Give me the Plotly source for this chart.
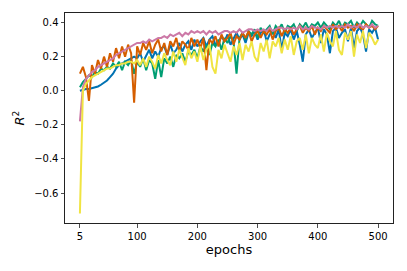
import plotly.graph_objects as go

epochs = list(range(5, 501, 5))

blue = [0.00, 0.005, 0.01, 0.01, 0.015, 0.02, 0.025, 0.035, 0.045, 0.06, 0.08, 0.10, 0.13, 0.15, 0.16, 0.17, 0.18, 0.19, 0.20, 0.19,
        0.22, 0.17, 0.21, 0.24, 0.19, 0.23, 0.20, 0.25, 0.26, 0.21, 0.27, 0.22, 0.24, 0.28, 0.23, 0.27, 0.29, 0.24, 0.30, 0.26,
        0.29, 0.31, 0.26, 0.30, 0.32, 0.27, 0.28, 0.32, 0.29, 0.33, 0.27, 0.31, 0.34, 0.30, 0.33, 0.28, 0.34, 0.32, 0.35, 0.30,
        0.34, 0.36, 0.29, 0.33, 0.35, 0.31, 0.36, 0.24, 0.34, 0.32, 0.36, 0.30, 0.35, 0.27, 0.17, 0.33, 0.36, 0.31, 0.34, 0.37,
        0.28, 0.36, 0.33, 0.22, 0.35, 0.37, 0.31, 0.34, 0.36, 0.29, 0.37, 0.25, 0.35, 0.37, 0.33, 0.23, 0.36, 0.34, 0.37, 0.30]

green = [0.02, 0.05, 0.07, 0.09, 0.08, 0.11, 0.10, 0.13, 0.12, 0.14, 0.13, 0.16, 0.14, 0.17, 0.12, 0.17, 0.15, 0.18, 0.10, 0.17,
         0.14, 0.19, 0.12, 0.18, 0.16, 0.07, 0.18, 0.08, 0.19, 0.16, 0.20, 0.14, 0.21, 0.19, 0.22, 0.17, 0.23, 0.21, 0.24, 0.19,
         0.26, 0.23, 0.27, 0.21, 0.28, 0.26, 0.30, 0.24, 0.31, 0.28, 0.32, 0.29, 0.10, 0.31, 0.34, 0.30, 0.35, 0.33, 0.36, 0.31,
         0.37, 0.34, 0.36, 0.38, 0.33, 0.38, 0.36, 0.39, 0.34, 0.38, 0.37, 0.39, 0.35, 0.39, 0.37, 0.40, 0.36, 0.39, 0.38, 0.40,
         0.37, 0.40, 0.38, 0.36, 0.40, 0.38, 0.41, 0.37, 0.40, 0.39, 0.41, 0.37, 0.40, 0.38, 0.41, 0.39, 0.37, 0.41, 0.39, 0.38]

orange = [0.10, 0.14, 0.08, -0.06, 0.15, 0.10, 0.18, 0.13, 0.20, 0.14, 0.22, 0.17, 0.25, 0.19, 0.26, 0.20, 0.27, 0.22, -0.07, 0.26,
          0.21, 0.28, 0.24, 0.29, 0.22, 0.27, 0.30, 0.23, 0.28, 0.21, 0.29, 0.26, 0.31, 0.23, 0.29, 0.27, 0.24, 0.31, 0.26, 0.30,
          0.25, 0.31, 0.12, 0.30, 0.28, 0.32, 0.26, 0.33, 0.29, 0.31, 0.34, 0.27, 0.32, 0.30, 0.34, 0.31, 0.35, 0.29, 0.33, 0.35,
          0.31, 0.35, 0.33, 0.36, 0.30, 0.35, 0.37, 0.32, 0.36, 0.34, 0.37, 0.33, 0.36, 0.38, 0.34, 0.37, 0.35, 0.38, 0.33, 0.37,
          0.35, 0.38, 0.36, 0.34, 0.39, 0.36, 0.38, 0.35, 0.39, 0.37, 0.38, 0.35, 0.39, 0.37, 0.36, 0.39, 0.37, 0.38, 0.36, 0.38]

pink = [-0.18, 0.02, 0.07, 0.09, 0.11, 0.12, 0.14, 0.15, 0.16, 0.17, 0.18, 0.19, 0.21, 0.22, 0.23, 0.24, 0.25, 0.26, 0.27, 0.28,
        0.28, 0.29, 0.28, 0.30, 0.29, 0.30, 0.31, 0.31, 0.32, 0.31, 0.33, 0.32, 0.33, 0.34, 0.32, 0.34, 0.33, 0.35, 0.34, 0.35,
        0.34, 0.35, 0.33, 0.35, 0.34, 0.35, 0.33, 0.34, 0.35, 0.35, 0.34, 0.35, 0.34, 0.36, 0.34, 0.35, 0.36, 0.36, 0.35, 0.36,
        0.35, 0.36, 0.35, 0.37, 0.35, 0.36, 0.37, 0.37, 0.36, 0.37, 0.36, 0.37, 0.36, 0.38, 0.36, 0.37, 0.36, 0.38, 0.37, 0.37,
        0.36, 0.38, 0.37, 0.38, 0.37, 0.38, 0.37, 0.38, 0.37, 0.39, 0.37, 0.38, 0.37, 0.39, 0.37, 0.38, 0.37, 0.39, 0.37, 0.38]

yellow = [-0.72, 0.00, 0.04, 0.06, 0.08, 0.09, 0.10, 0.11, 0.12, 0.13, 0.13, 0.14, 0.15, 0.15, 0.16, 0.16, 0.17, 0.17, 0.16, 0.18,
          0.15, 0.19, 0.14, 0.20, 0.17, 0.13, 0.21, 0.16, 0.22, 0.18, 0.15, 0.23, 0.17, 0.24, 0.20, 0.15, 0.25, 0.19, 0.23, 0.17,
          0.26, 0.18, 0.24, 0.27, 0.14, 0.10, 0.24, 0.19, 0.27, 0.22, 0.17, 0.26, 0.21, 0.28, 0.18, 0.27, 0.23, 0.29, 0.20, 0.17,
          0.28, 0.23, 0.30, 0.19, 0.29, 0.26, 0.31, 0.22, 0.30, 0.24, 0.32, 0.21, 0.29, 0.31, 0.24, 0.33, 0.22, 0.31, 0.27, 0.25,
          0.33, 0.23, 0.34, 0.29, 0.26, 0.35, 0.24, 0.21, 0.34, 0.30, 0.35, 0.20, 0.33, 0.28, 0.35, 0.25, 0.34, 0.31, 0.27, 0.30]

series = [
    ("blue", blue, "#0072B2"),
    ("green", green, "#009E73"),
    ("orange", orange, "#D55E00"),
    ("pink", pink, "#CC79A7"),
    ("yellow", yellow, "#F0E442"),
]

x_ticks = [5, 100, 200, 300, 400, 500]
y_ticks = [-0.6, -0.4, -0.2, 0.0, 0.2, 0.4]
y_tick_text = ["\u22120.6", "\u22120.4", "\u22120.2", "0.0", "0.2", "0.4"]

fig = go.Figure()
for name, vals, col in series:
    fig.add_trace(go.Scatter(x=epochs, y=vals, mode="lines", name=name,
                             line=dict(color=col, width=2), showlegend=False,
                             hoverinfo="skip"))

axis_common = dict(showline=True, linecolor="#222", linewidth=1, mirror=True,
                   ticks="outside", ticklen=3.5, tickwidth=0.8, tickcolor="#222",
                   showgrid=False, zeroline=False, automargin=False,
                   tickfont=dict(family="DejaVu Sans", size=10, color="black"))

fig.update_layout(
    width=407, height=271,
    margin=dict(l=65, r=14, t=13, b=48),
    paper_bgcolor="white", plot_bgcolor="white",
    xaxis=dict(range=[-19.75, 524.75], tickvals=x_ticks,
               title=dict(text="epochs", font=dict(family="DejaVu Sans", size=13, color="black"), standoff=4),
               **axis_common),
    yaxis=dict(range=[-0.776, 0.456], tickvals=y_ticks, ticktext=y_tick_text,
               title=dict(text="<i>R</i><sup>2</sup>", font=dict(family="DejaVu Sans", size=13, color="black"), standoff=6),
               **axis_common),
)

fig.write_html("out.html", config={"displayModeBar": False, "staticPlot": True},
               post_script="document.body.style.margin='0';document.body.style.overflow='hidden';")
